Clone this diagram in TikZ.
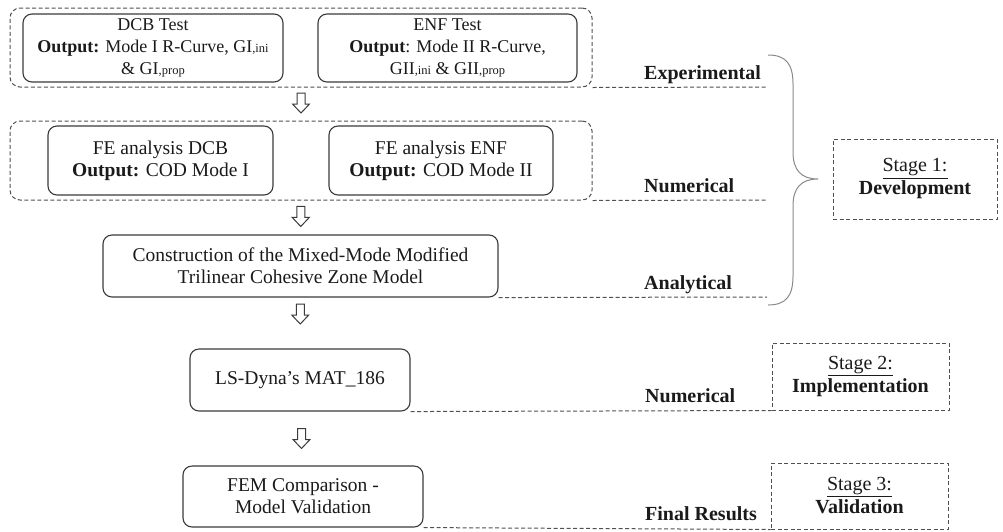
\documentclass[tikz,border=0pt]{standalone}
\usepackage{fontspec}
\setmainfont{Liberation Serif}
\usetikzlibrary{calc}

\definecolor{boxc}{HTML}{3A3A3A}
\definecolor{dashc}{HTML}{505050}
\definecolor{bracec}{HTML}{8A8A8A}
\definecolor{inkc}{HTML}{1A1A1A}

\newcommand{\boxfont}{\fontsize{19.5}{22}\selectfont}
\newcommand{\testfont}{\fontsize{18}{22}\selectfont}
\newcommand{\labfont}{\fontsize{20}{23}\selectfont}
\newcommand{\idx}[1]{{\fontsize{12.5}{12.5}\selectfont #1}}

\tikzset{
  procbox/.style={draw=boxc, line width=1.1pt, rounded corners=9pt, align=center,
    inner sep=0pt, text=inkc, font=\boxfont},
  testbox/.style={procbox, font=\testfont},
  groupbox/.style={draw=dashc, line width=1pt, dash pattern=on 4pt off 2.5pt,
    rounded corners=10pt, inner sep=0pt},
  stagebox/.style={draw=dashc, line width=1pt, dash pattern=on 4pt off 2.5pt,
    align=center, inner sep=0pt, text=inkc, font=\labfont},
  guide/.style={draw=dashc, line width=1pt, dash pattern=on 4pt off 2.5pt},
  level/.style={anchor=base west, inner sep=0pt, text=inkc, font=\labfont\bfseries},
  hollowarrow/.pic={
    \draw[boxc, line width=1pt, line join=miter]
      (-4,0) -- (4,0) -- (4,11) -- (8.5,11) -- (0,20) -- (-8.5,11) -- (-4,11) -- cycle;
  }
}

\begin{document}
\begin{tikzpicture}[x=1pt, y=-1pt]
\useasboundingbox (0,0) rectangle (1003,531);

% experimental group
\node[groupbox, minimum width=582pt, minimum height=79pt] (g1) at (301,47.5) {};
\node[testbox, minimum width=260pt, minimum height=68pt] (dcb) at (153,48)
  {DCB Test\\ \textbf{Output:} Mode I R-Curve, GI\idx{,ini}\\ \& GI\idx{,prop}};
\node[testbox, minimum width=259pt, minimum height=68pt] (enf) at (447.5,48)
  {ENF Test\\ \textbf{Output}: Mode II R-Curve,\\ GII\idx{,ini} \& GII\idx{,prop}};

% numerical group
\node[groupbox, minimum width=582pt, minimum height=79pt] (g2) at (301,160.5) {};
\node[procbox, minimum width=225pt, minimum height=69pt] (fedcb) at (160.5,160.5)
  {FE analysis DCB\\ \textbf{Output:} COD Mode I};
\node[procbox, minimum width=224pt, minimum height=69pt] (feenf) at (441,160.5)
  {FE analysis ENF\\ \textbf{Output:} COD Mode II};

% analytical step
\node[procbox, minimum width=395pt, minimum height=62pt] (czm) at (300.5,266)
  {Construction of the Mixed-Mode Modified\\ Trilinear Cohesive Zone Model};

% implementation and validation
\node[procbox, minimum width=220pt, minimum height=62pt] (dyna) at (300,380)
  {LS-Dyna’s MAT\_186};
\node[procbox, minimum width=240pt, minimum height=61pt] (fem) at (303,496.5)
  {FEM Comparison -\\ Model Validation};

% stage boxes
\node[stagebox, minimum width=164pt, minimum height=80pt] (s1) at (915,179)
  {\underline{Stage 1:}\\ \textbf{Development}};
\node[stagebox, minimum width=177pt, minimum height=67pt] (s2) at (860.5,376.5)
  {\underline{Stage 2:}\\ \textbf{Implementation}};
\node[stagebox, minimum width=177pt, minimum height=66pt] (s3) at (859.5,496)
  {\underline{Stage 3:}\\ \textbf{Validation}};

% level guide lines and their labels
\coordinate (e1) at (767,87);
\coordinate (e2) at (767,200);
\coordinate (e3) at (767,297);
\draw[guide] (g1.south east) -- (e1);
\draw[guide] (g2.south east) -- (e2);
\draw[guide] (czm.south east) -- (e3);
\draw[guide] (dyna.south east) -- (s2.south west);
\draw[guide] (fem.south east) -- (s3.south west);

\node[level] at (644,79) {Experimental};
\node[level] at (644,192) {Numerical};
\node[level] at (644,289) {Analytical};
\node[level] at (645,402) {Numerical};
\node[level] at (645,520) {Final Results};

% brace grouping the first three levels
\coordinate (btop) at (768,55);
\coordinate (bbot) at (768,305);
\coordinate (btip) at (818,179);
\draw[bracec, line width=1pt]
  (btop) .. controls (786,55) and (793,64) .. (793,84)
  -- (793,152) .. controls (793,170) and (801,179) .. (btip)
  .. controls (801,179) and (793,188) .. (793,206)
  -- (793,276) .. controls (793,296) and (786,305) .. (bbot);

% flow arrows
\path ($(g1.south)!0.5!(g2.north)$) ++(0,-11) pic {hollowarrow};
\path ($(g2.south)!0.5!(czm.north)$) ++(0,-11) pic {hollowarrow};
\path ($(czm.south)!0.5!(dyna.north)$) ++(0,-19) pic {hollowarrow};
\path ($(dyna.south)!0.5!(fem.north)$) ++(0,-10) pic {hollowarrow};
\end{tikzpicture}
\end{document}
